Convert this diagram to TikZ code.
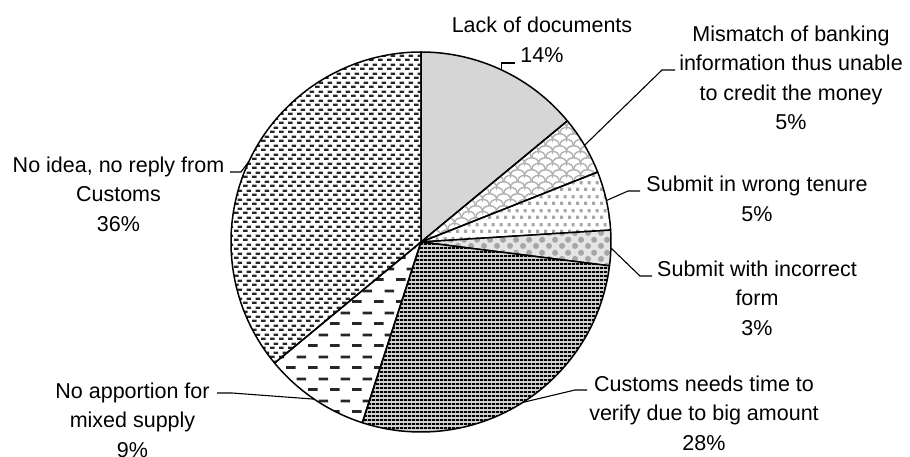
\documentclass[tikz,border=0pt]{standalone}
\usepackage{fontspec}
\setmainfont{Liberation Sans}
\usetikzlibrary{patterns}

% fill patterns of the slices
\pgfdeclarepatternformonly{scales}{\pgfpointorigin}{\pgfpoint{14pt}{12pt}}{\pgfpoint{14pt}{12pt}}{
  \pgfsetlinewidth{1.6pt}
  \pgfpathmoveto{\pgfpoint{0pt}{0pt}}
  \pgfpathcurveto{\pgfpoint{0pt}{8pt}}{\pgfpoint{14pt}{8pt}}{\pgfpoint{14pt}{0pt}}
  \pgfpathmoveto{\pgfpoint{-7pt}{6pt}}
  \pgfpathcurveto{\pgfpoint{-7pt}{14pt}}{\pgfpoint{7pt}{14pt}}{\pgfpoint{7pt}{6pt}}
  \pgfpathcurveto{\pgfpoint{7pt}{14pt}}{\pgfpoint{21pt}{14pt}}{\pgfpoint{21pt}{6pt}}
  \pgfusepath{stroke}}
\pgfdeclarepatternformonly{sqdots}{\pgfpointorigin}{\pgfpoint{8pt}{14pt}}{\pgfpoint{8pt}{14pt}}{
  \pgfpathrectangle{\pgfpoint{0pt}{0pt}}{\pgfpoint{3.5pt}{3.5pt}}
  \pgfpathrectangle{\pgfpoint{4pt}{7pt}}{\pgfpoint{3.5pt}{3.5pt}}
  \pgfusepath{fill}}
\pgfdeclarepatternformonly{balls}{\pgfpointorigin}{\pgfpoint{13pt}{13pt}}{\pgfpoint{13pt}{13pt}}{
  \pgfpathcircle{\pgfpoint{3.25pt}{3.25pt}}{3.2pt}
  \pgfpathcircle{\pgfpoint{9.75pt}{9.75pt}}{3.2pt}
  \pgfusepath{fill}}
\pgfdeclarepatternformonly{hlines}{\pgfpointorigin}{\pgfpoint{4pt}{4pt}}{\pgfpoint{4pt}{4pt}}{
  \pgfpathrectangle{\pgfpoint{0pt}{0pt}}{\pgfpoint{4pt}{2.2pt}}
  \pgfusepath{fill}}
\pgfdeclarepatternformonly{longdash}{\pgfpointorigin}{\pgfpoint{22pt}{22pt}}{\pgfpoint{22pt}{22pt}}{
  \pgfpathrectangle{\pgfpoint{0pt}{0pt}}{\pgfpoint{10pt}{3pt}}
  \pgfpathrectangle{\pgfpoint{11pt}{11pt}}{\pgfpoint{10pt}{3pt}}
  \pgfusepath{fill}}
\pgfdeclarepatternformonly{shortdash}{\pgfpointorigin}{\pgfpoint{9pt}{9pt}}{\pgfpoint{9pt}{9pt}}{
  \pgfpathrectangle{\pgfpoint{0pt}{0pt}}{\pgfpoint{5pt}{2.5pt}}
  \pgfpathrectangle{\pgfpoint{4pt}{4.5pt}}{\pgfpoint{5pt}{2.5pt}}
  \pgfusepath{fill}}

\tikzset{
  lbl/.style={align=center, inner sep=0pt, font=\fontsize{21.5}{29.5}\selectfont},
  slice/.style={draw=black, line width=1.5pt, line join=round},
  leader/.style={draw=black, line width=1.1pt},
}

\begin{document}
\begin{tikzpicture}[x=1pt,y=-1pt]
\useasboundingbox (0,0) rectangle (910,457);
\coordinate (c) at (421,242); %centre of the pie
% slices, clockwise from the top
\draw[slice,fill=gray!32] (c) -- ++(-90:190) arc[start angle=-90,end angle=-39.6,radius=190] -- cycle; %lack of documents
\draw[slice,pattern=scales,pattern color=gray!60] (c) -- ++(-39.6:190) arc[start angle=-39.6,end angle=-21.6,radius=190] -- cycle; %mismatch
\draw[slice,pattern=sqdots,pattern color=gray!70] (c) -- ++(-21.6:190) arc[start angle=-21.6,end angle=-3.6,radius=190] -- cycle; %wrong tenure
\draw[slice,preaction={fill=gray!20},pattern=balls,pattern color=gray!70] (c) -- ++(-3.6:190) arc[start angle=-3.6,end angle=7.2,radius=190] -- cycle; %incorrect form
\draw[slice,preaction={fill=gray!35},pattern=hlines,pattern color=black] (c) -- ++(7.2:190) arc[start angle=7.2,end angle=108,radius=190] -- cycle; %needs time
\draw[slice,pattern=longdash,pattern color=black!85] (c) -- ++(108:190) arc[start angle=108,end angle=140.4,radius=190] -- cycle; %apportion
\draw[slice,pattern=shortdash,pattern color=black!85] (c) -- ++(140.4:190) arc[start angle=140.4,end angle=270,radius=190] -- cycle; %no idea

% labels
\node[lbl] (lack) at (542,40) {Lack of documents\\14\%};
\node[lbl] (mismatch) at (791,78) {Mismatch of banking\\information thus unable\\to credit the money\\5\%};
\node[lbl] (tenure) at (757,199) {Submit in wrong tenure\\5\%};
\node[lbl] (form) at (757,298) {Submit with incorrect\\form\\3\%};
\node[lbl] (verify) at (704,413) {Customs needs time to\\verify due to big amount\\28\%};
\node[lbl] (apportion) at (132.5,420) {No apportion for\\mixed supply\\9\%};
\node[lbl] (noidea) at (118.5,194) {No idea, no reply from\\Customs\\36\%};

% leader lines, slice middle to label
\path (c) ++(-64.8:190) coordinate (lack-a);
\path (c) ++(-30.6:190) coordinate (mismatch-a);
\path (c) ++(-12.6:190) coordinate (tenure-a);
\path (c) ++(1.8:190) coordinate (form-a);
\path (c) ++(57.6:190) coordinate (verify-a);
\path (c) ++(124.2:190) coordinate (apportion-a);
\path (c) ++(205.2:190) coordinate (noidea-a);
\coordinate (lack-e) at (515,63);
\coordinate (mismatch-e) at (675,70);
\coordinate (tenure-e) at (640,191);
\coordinate (form-e) at (652,276);
\coordinate (verify-e) at (587,390);
\coordinate (apportion-e) at (217,393);
\coordinate (noidea-e) at (230,172);
\draw[leader] (lack-a) |- (lack-e);
\draw[leader] (mismatch-a) -- ([xshift=-13pt]mismatch-e) -- (mismatch-e);
\draw[leader] (tenure-a) -- ([xshift=-12pt]tenure-e) -- (tenure-e);
\draw[leader] (form-a) -- ([xshift=-12pt]form-e) -- (form-e);
\draw[leader] (verify-a) -- ([xshift=-12pt]verify-e) -- (verify-e);
\draw[leader] (apportion-a) -- ([xshift=15pt]apportion-e) -- (apportion-e);
\draw[leader] (noidea-a) -- ([xshift=11pt]noidea-e) -- (noidea-e);
\end{tikzpicture}
\end{document}
